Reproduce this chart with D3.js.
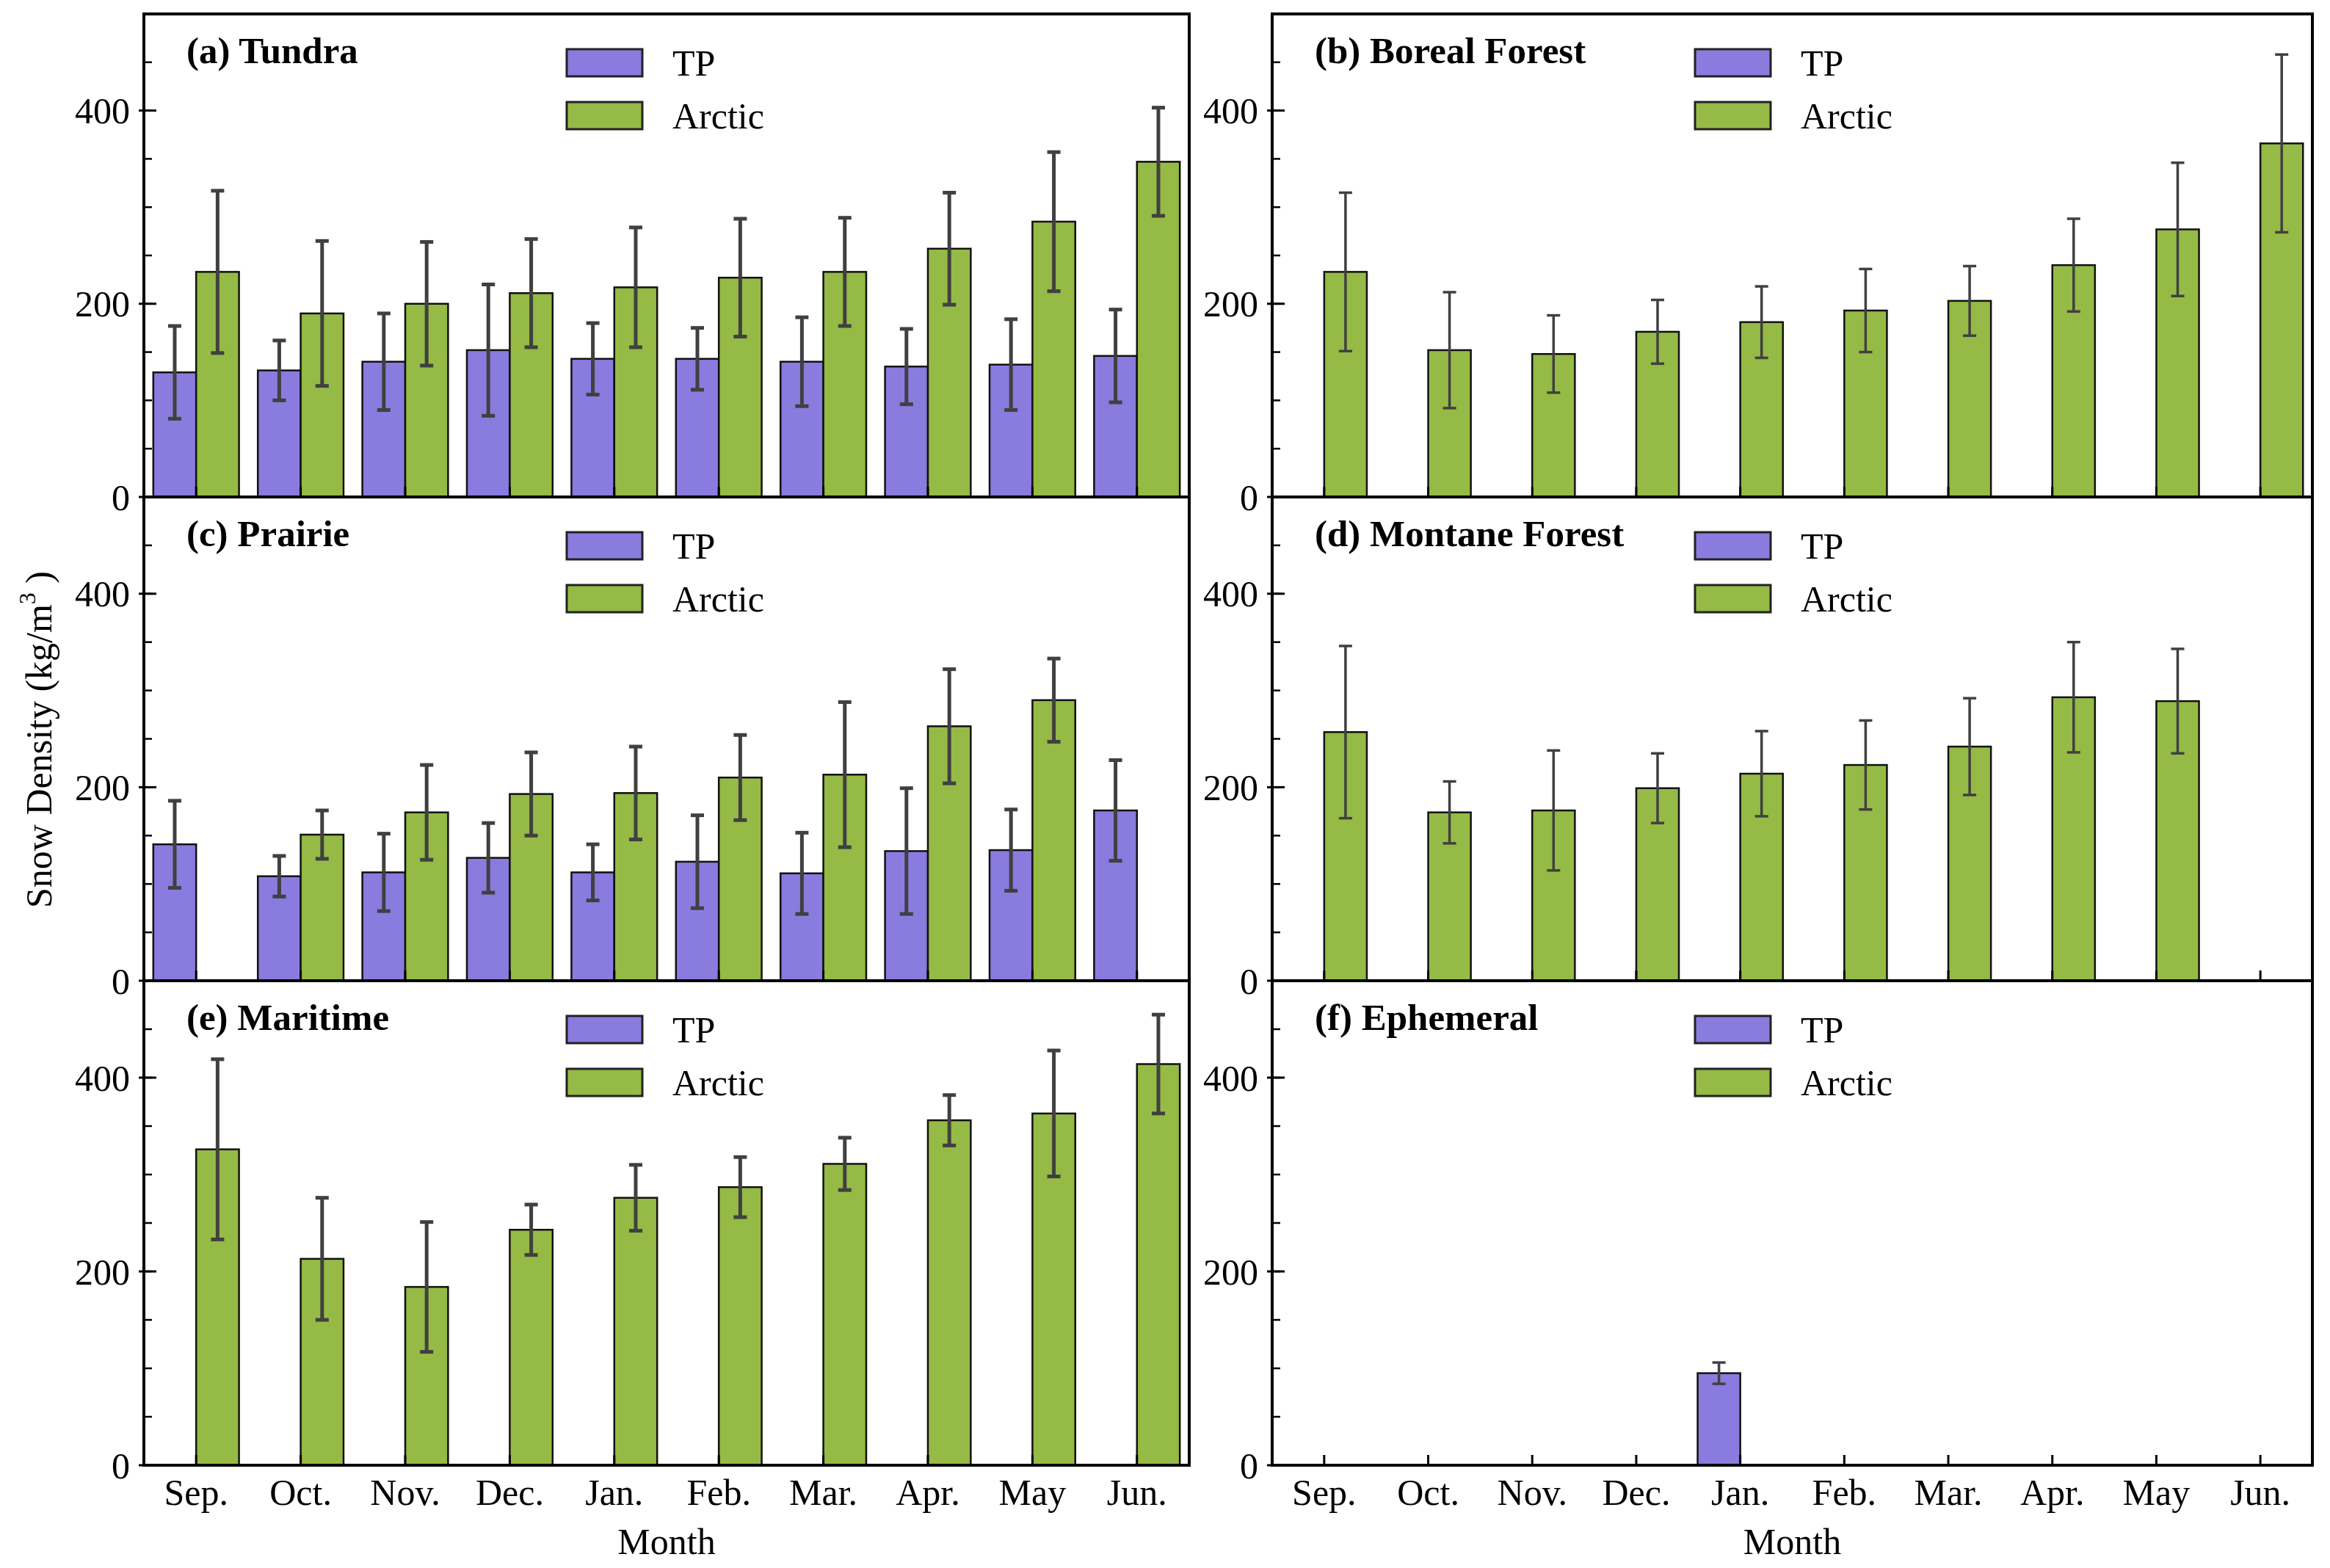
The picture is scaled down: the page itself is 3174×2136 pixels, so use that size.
<!DOCTYPE html>
<html>
<head>
<meta charset="utf-8">
<script src="https://cdn.jsdelivr.net/npm/d3@7"></script>
<style>
  body { margin: 0; background: #fff; }
  text { font-family: 'Liberation Serif', 'Times New Roman', serif; fill: #000; }
</style>
</head>
<body>
<div id="chart"></div>
<script>
// months on the x axis
let months = ['Sep.', 'Oct.', 'Nov.', 'Dec.', 'Jan.', 'Feb.', 'Mar.', 'Apr.', 'May', 'Jun.']
let yTicks = [0, 200, 400]
let seriesNames = ['TP', 'Arctic']

// (a) Tundra
let tundraTP = [129, 131, 140, 152, 143, 143, 140, 135, 137, 146]
let tundraTPErr = [48, 31, 50, 68, 37, 32, 46, 39, 47, 48]
let tundraArctic = [233, 190, 200, 211, 217, 227, 233, 257, 285, 347]
let tundraArcticErr = [84, 75, 64, 56, 62, 61, 56, 58, 72, 56]

// (b) Boreal Forest
let borealTP = [null, null, null, null, null, null, null, null, null, null]
let borealTPErr = [null, null, null, null, null, null, null, null, null, null]
let borealArctic = [233, 152, 148, 171, 181, 193, 203, 240, 277, 366]
let borealArcticErr = [82, 60, 40, 33, 37, 43, 36, 48, 69, 92]

// (c) Prairie
let prairieTP = [141, 108, 112, 127, 112, 123, 111, 134, 135, 176]
let prairieTPErr = [45, 21, 40, 36, 29, 48, 42, 65, 42, 52]
let prairieArctic = [null, 151, 174, 193, 194, 210, 213, 263, 290, null]
let prairieArcticErr = [null, 25, 49, 43, 48, 44, 75, 59, 43, null]

// (d) Montane Forest
let montaneTP = [null, null, null, null, null, null, null, null, null, null]
let montaneTPErr = [null, null, null, null, null, null, null, null, null, null]
let montaneArctic = [257, 174, 176, 199, 214, 223, 242, 293, 289, null]
let montaneArcticErr = [89, 32, 62, 36, 44, 46, 50, 57, 54, null]

// (e) Maritime
let maritimeTP = [null, null, null, null, null, null, null, null, null, null]
let maritimeTPErr = [null, null, null, null, null, null, null, null, null, null]
let maritimeArctic = [326, 213, 184, 243, 276, 287, 311, 356, 363, 414]
let maritimeArcticErr = [93, 63, 67, 26, 34, 31, 27, 26, 65, 51]

// (f) Ephemeral
let ephemeralTP = [null, null, null, null, 95, null, null, null, null, null]
let ephemeralTPErr = [null, null, null, null, 11, null, null, null, null, null]
let ephemeralArctic = [null, null, null, null, null, null, null, null, null, null]
let ephemeralArcticErr = [null, null, null, null, null, null, null, null, null, null]

let panels = [
  { title: '(a) Tundra', tp: tundraTP, tpErr: tundraTPErr, arctic: tundraArctic, arcticErr: tundraArcticErr },
  { title: '(b) Boreal Forest', tp: borealTP, tpErr: borealTPErr, arctic: borealArctic, arcticErr: borealArcticErr },
  { title: '(c) Prairie', tp: prairieTP, tpErr: prairieTPErr, arctic: prairieArctic, arcticErr: prairieArcticErr },
  { title: '(d) Montane Forest', tp: montaneTP, tpErr: montaneTPErr, arctic: montaneArctic, arcticErr: montaneArcticErr },
  { title: '(e) Maritime', tp: maritimeTP, tpErr: maritimeTPErr, arctic: maritimeArctic, arcticErr: maritimeArcticErr },
  { title: '(f) Ephemeral', tp: ephemeralTP, tpErr: ephemeralTPErr, arctic: ephemeralArctic, arcticErr: ephemeralArcticErr }
]

let colors = { TP: '#8a7bdf', Arctic: '#95ba45' }

let width = 3174
let height = 2136

let colX = [[196, 1620], [1733, 3150]]
let rowY = [19, 677, 1336, 1996]

let svg = d3
  .select('#chart')
  .append('svg')
  .attr('width', width)
  .attr('height', height)

panels.forEach((p, i) => {
  let col = i % 2
  let row = Math.floor(i / 2)
  let x0 = colX[col][0]
  let x1 = colX[col][1]
  let y0 = rowY[row]
  let y1 = rowY[row + 1]
  let w = x1 - x0
  let h = y1 - y0
  let errWidth = col === 0 ? 5 : 3.5

  let g = svg.append('g').attr('transform', `translate(${x0},${y0})`)

  let x = d3.scaleBand().domain(months).range([0, w])
  let y = d3.scaleLinear().domain([0, 500]).range([h, 0])
  let bw = x.bandwidth() * 0.41

  let bars = []
  months.forEach((m, j) => {
    let cx = x(m) + x.bandwidth() / 2
    if (p.tp[j] != null) bars.push({ s: 'TP', x: cx - bw, v: p.tp[j], e: p.tpErr[j] })
    if (p.arctic[j] != null) bars.push({ s: 'Arctic', x: cx, v: p.arctic[j], e: p.arcticErr[j] })
  })

  g.selectAll('.bar')
    .data(bars)
    .enter()
    .append('rect')
    .attr('class', 'bar')
    .attr('x', d => d.x)
    .attr('width', bw)
    .attr('y', d => y(d.v))
    .attr('height', d => y(0) - y(d.v))
    .attr('fill', d => colors[d.s])
    .attr('stroke', '#111')
    .attr('stroke-width', 2.5)

  // error bars
  let eb = g.selectAll('.err')
    .data(bars)
    .enter()
    .append('g')
    .attr('class', 'err')
    .attr('stroke', '#404040')
    .attr('stroke-width', errWidth)
  eb.append('line')
    .attr('x1', d => d.x + bw / 2).attr('x2', d => d.x + bw / 2)
    .attr('y1', d => y(d.v + d.e)).attr('y2', d => y(d.v - d.e))
  eb.append('line')
    .attr('x1', d => d.x + bw / 2 - 9).attr('x2', d => d.x + bw / 2 + 9)
    .attr('y1', d => y(d.v + d.e)).attr('y2', d => y(d.v + d.e))
  eb.append('line')
    .attr('x1', d => d.x + bw / 2 - 9).attr('x2', d => d.x + bw / 2 + 9)
    .attr('y1', d => y(d.v - d.e)).attr('y2', d => y(d.v - d.e))

  // x ticks, inside
  g.selectAll('.xtick')
    .data(months)
    .enter()
    .append('line')
    .attr('class', 'xtick')
    .attr('x1', d => x(d) + x.bandwidth() / 2)
    .attr('x2', d => x(d) + x.bandwidth() / 2)
    .attr('y1', h)
    .attr('y2', h - 14)
    .attr('stroke', '#000')
    .attr('stroke-width', 3)

  // y minor ticks
  g.selectAll('.yminor')
    .data(d3.range(0, 501, 50))
    .enter()
    .append('line')
    .attr('x1', 0).attr('x2', 11)
    .attr('y1', d => y(d)).attr('y2', d => y(d))
    .attr('stroke', '#000')
    .attr('stroke-width', 2.5)

  // y major ticks + labels
  g.selectAll('.ymajor')
    .data(yTicks)
    .enter()
    .append('line')
    .attr('x1', -7).attr('x2', 17)
    .attr('y1', d => y(d)).attr('y2', d => y(d))
    .attr('stroke', '#000')
    .attr('stroke-width', 3)

  g.selectAll('.ylabel')
    .data(yTicks)
    .enter()
    .append('text')
    .attr('x', -19)
    .attr('y', d => y(d))
    .attr('dy', '0.35em')
    .attr('text-anchor', 'end')
    .attr('font-size', 50)
    .text(d => d)

  // frame
  g.append('rect')
    .attr('x', 0).attr('y', 0)
    .attr('width', w).attr('height', h)
    .attr('fill', 'none')
    .attr('stroke', '#000')
    .attr('stroke-width', 4)

  // title
  g.append('text')
    .attr('x', 58)
    .attr('y', 67)
    .attr('font-size', 51)
    .attr('font-weight', 'bold')
    .text(p.title)

  // legend
  let legend = g.append('g').attr('transform', 'translate(576, 48)')
  legend
    .selectAll('.legend-entry')
    .data(seriesNames)
    .enter()
    .append('g')
    .attr('class', 'legend-entry')
    .attr('transform', (d, k) => `translate(0,${k * 72})`)
    .each(function(d) {
      let e = d3.select(this)
      e.append('rect')
        .attr('width', 103)
        .attr('height', 37)
        .attr('fill', colors[d])
        .attr('stroke', '#222')
        .attr('stroke-width', 3)
      e.append('text')
        .attr('x', 144)
        .attr('y', 18.5)
        .attr('dy', '0.35em')
        .attr('font-size', 50)
        .text(d)
    })

  // month labels and x title on bottom row
  if (row === 2) {
    g.selectAll('.xlabel')
      .data(months)
      .enter()
      .append('text')
      .attr('x', d => x(d) + x.bandwidth() / 2)
      .attr('y', h + 54)
      .attr('text-anchor', 'middle')
      .attr('font-size', 50)
      .text(d => d)
    g.append('text')
      .attr('x', w / 2)
      .attr('y', h + 121)
      .attr('text-anchor', 'middle')
      .attr('font-size', 50)
      .text('Month')
  }
})

// y axis title
let yTitle = svg.append('text')
  .attr('transform', `translate(70,${(rowY[0] + rowY[3]) / 2}) rotate(-90)`)
  .attr('text-anchor', 'middle')
  .attr('font-size', 50)
yTitle.append('tspan').text('Snow Density (kg/m')
yTitle.append('tspan').attr('font-size', 32).attr('dy', -22).text('3')
yTitle.append('tspan').attr('dy', 22).text(' )')
</script>
</body>
</html>
